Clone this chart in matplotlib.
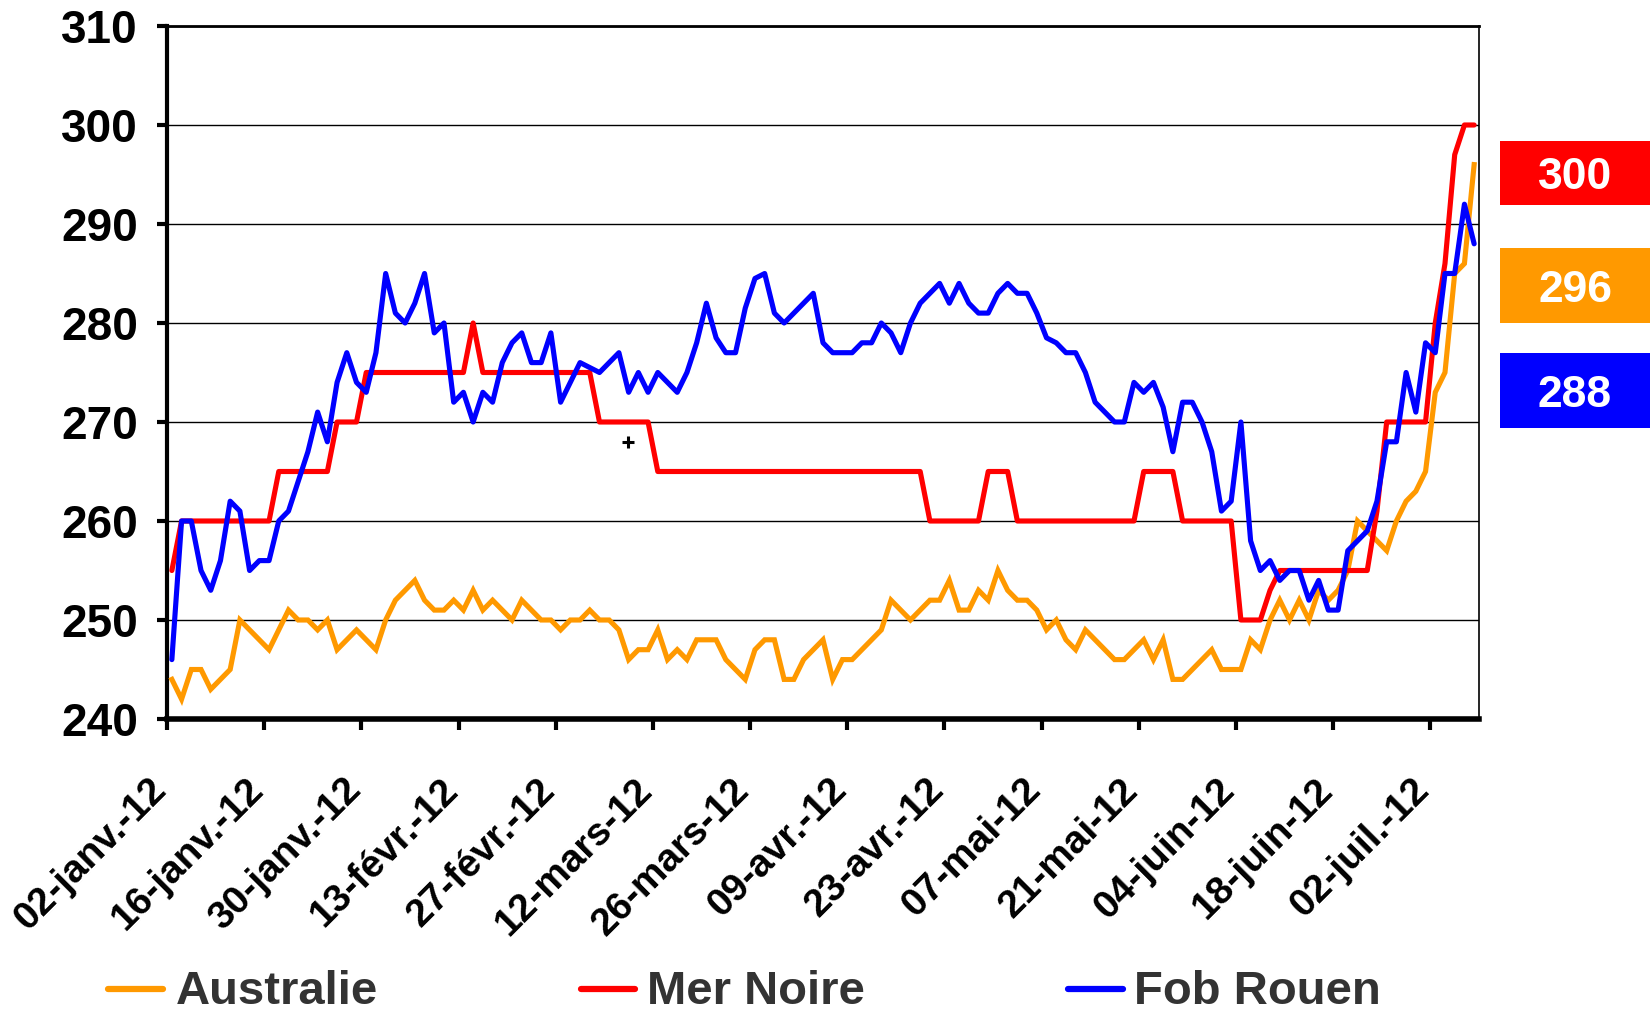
import matplotlib
matplotlib.use('Agg')
import matplotlib.pyplot as plt
import matplotlib.transforms as mtransforms
from matplotlib.lines import Line2D
from matplotlib.patches import Rectangle
import numpy as np

plt.rcParams['font.family'] = ['Liberation Sans', 'DejaVu Sans']

# ---------------- data (business days 02-janv.-12 .. 06-juil.-12) ----------------
tick_labels = ["02-janv.-12", "16-janv.-12", "30-janv.-12", "13-févr.-12", "27-févr.-12",
               "12-mars-12", "26-mars-12", "09-avr.-12", "23-avr.-12", "07-mai-12",
               "21-mai-12", "04-juin-12", "18-juin-12", "02-juil.-12"]

australie = [244, 242, 245, 245, 243, 244, 245, 250, 249, 248,
             247, 249, 251, 250, 250, 249, 250, 247, 248, 249,
             248, 247, 250, 252, 253, 254, 252, 251, 251, 252,
             251, 253, 251, 252, 251, 250, 252, 251, 250, 250,
             249, 250, 250, 251, 250, 250, 249, 246, 247, 247,
             249, 246, 247, 246, 248, 248, 248, 246, 245, 244,
             247, 248, 248, 244, 244, 246, 247, 248, 244, 246,
             246, 247, 248, 249, 252, 251, 250, 251, 252, 252,
             254, 251, 251, 253, 252, 255, 253, 252, 252, 251,
             249, 250, 248, 247, 249, 248, 247, 246, 246, 247,
             248, 246, 248, 244, 244, 245, 246, 247, 245, 245,
             245, 248, 247, 250, 252, 250, 252, 250, 253, 252,
             253, 255, 260, 259, 258, 257, 260, 262, 263, 265,
             273, 275, 285, 286, 296]

mer_noire = [255, 260, 260, 260, 260, 260, 260, 260, 260, 260,
             260, 265, 265, 265, 265, 265, 265, 270, 270, 270,
             275, 275, 275, 275, 275, 275, 275, 275, 275, 275,
             275, 280, 275, 275, 275, 275, 275, 275, 275, 275,
             275, 275, 275, 275, 270, 270, 270, 270, 270, 270,
             265, 265, 265, 265, 265, 265, 265, 265, 265, 265,
             265, 265, 265, 265, 265, 265, 265, 265, 265, 265,
             265, 265, 265, 265, 265, 265, 265, 265, 260, 260,
             260, 260, 260, 260, 265, 265, 265, 260, 260, 260,
             260, 260, 260, 260, 260, 260, 260, 260, 260, 260,
             265, 265, 265, 265, 260, 260, 260, 260, 260, 260,
             250, 250, 250, 253, 255, 255, 255, 255, 255, 255,
             255, 255, 255, 255, 261, 270, 270, 270, 270, 270,
             280, 286, 297, 300, 300]

fob_rouen = [246, 260, 260, 255, 253, 256, 262, 261, 255, 256,
             256, 260, 261, 264, 267, 271, 268, 274, 277, 274,
             273, 277, 285, 281, 280, 282, 285, 279, 280, 272,
             273, 270, 273, 272, 276, 278, 279, 276, 276, 279,
             272, 274, 276, 275.5, 275, 276, 277, 273, 275, 273,
             275, 274, 273, 275, 278, 282, 278.5, 277, 277, 281.5,
             284.5, 285, 281, 280, 281, 282, 283, 278, 277, 277,
             277, 278, 278, 280, 279, 277, 280, 282, 283, 284,
             282, 284, 282, 281, 281, 283, 284, 283, 283, 281,
             278.5, 278, 277, 277, 275, 272, 271, 270, 270, 274,
             273, 274, 271.5, 267, 272, 272, 270, 267, 261, 262,
             270, 258, 255, 256, 254, 255, 255, 252, 254, 251,
             251, 257, 258, 259, 262, 268, 268, 275, 271, 278,
             277, 285, 285, 292, 288]

series_names = ["Australie", "Mer Noire", "Fob Rouen"]
series_colors = ["#FF9900", "#FF0000", "#0000FF"]

stray_mark = (47.4, 268.0)   # small "+" visible in the original

# ---------------- figure ----------------
W, H = 1650, 1016
fig = plt.figure(figsize=(W / 100, H / 100), dpi=100)
L, R, T, B = 167, 1479, 26, 719
ax = fig.add_axes([L / W, 1 - B / H, (R - L) / W, (B - T) / H])

n = len(australie)
x = np.arange(n) + 0.5

ax.plot(x, australie, color=series_colors[0], lw=3.7, solid_joinstyle='miter', zorder=3)
ax.plot(x, mer_noire, color=series_colors[1], lw=3.7, solid_joinstyle='round',
        solid_capstyle='round', zorder=4)
ax.plot(x, fob_rouen, color=series_colors[2], lw=3.7, solid_joinstyle='round',
        solid_capstyle='round', zorder=5)
ax.plot([stray_mark[0]], [stray_mark[1]], marker='+', ms=9, mew=2.2, color='black', zorder=6)

ax.set_xlim(0, n)
ax.set_ylim(240, 310)
ax.set_yticks(np.arange(240, 311, 10))
ax.yaxis.grid(True, color='black', lw=1.0)
ax.set_axisbelow(True)

ax.set_xticks(np.arange(0, 131, 10))
ax.set_xticklabels(tick_labels, rotation=45, ha='right', va='top', rotation_mode='anchor',
                   fontsize=28, fontweight='bold')
for lab in ax.get_yticklabels():
    lab.set_fontweight('bold')
ax.tick_params(axis='y', direction='out', length=7, width=3, pad=14, labelsize=33)
ax.tick_params(axis='x', direction='out', length=8, width=3, pad=30)

offset = mtransforms.ScaledTranslation(-19 / 100, 0, fig.dpi_scale_trans)
for lab in ax.get_xticklabels():
    lab.set_transform(lab.get_transform() + offset)

ax.spines['left'].set_linewidth(3)
ax.spines['bottom'].set_linewidth(4)
ax.spines['right'].set_linewidth(1.2)
ax.spines['top'].set_linewidth(2)

# ---------------- last-value boxes ----------------
boxes = [(mer_noire[-1], series_colors[1], 141, 205),
         (australie[-1], series_colors[0], 248, 323),
         (fob_rouen[-1], series_colors[2], 353, 428)]
for val, col, y0, y1 in boxes:
    fig.add_artist(Rectangle((1500 / W, 1 - y1 / H), 150 / W, (y1 - y0) / H,
                             transform=fig.transFigure, facecolor=col, edgecolor='none'))
    fig.text(1575 / W, 1 - ((y0 + y1) / 2 + 16) / H, f"{val:.0f}", color='white',
             fontsize=32, fontweight='bold', ha='center', va='baseline')

# ---------------- legend ----------------
leg = [(108, 163, 176), (581, 635, 647), (1068, 1123, 1134)]
for (hx0, hx1, tx), name, col in zip(leg, series_names, series_colors):
    fig.add_artist(Line2D([hx0 / W, hx1 / W], [1 - 989 / H, 1 - 989 / H],
                          transform=fig.transFigure, color=col, lw=4.5, solid_capstyle='round'))
    fig.text(tx / W, 1 - 1004 / H, name, color='#333333', fontsize=34, fontweight='bold',
             ha='left', va='baseline',
             family=['Liberation Sans Narrow', 'Liberation Sans', 'DejaVu Sans'])

fig.savefig('out.png', dpi=100, facecolor='white')
